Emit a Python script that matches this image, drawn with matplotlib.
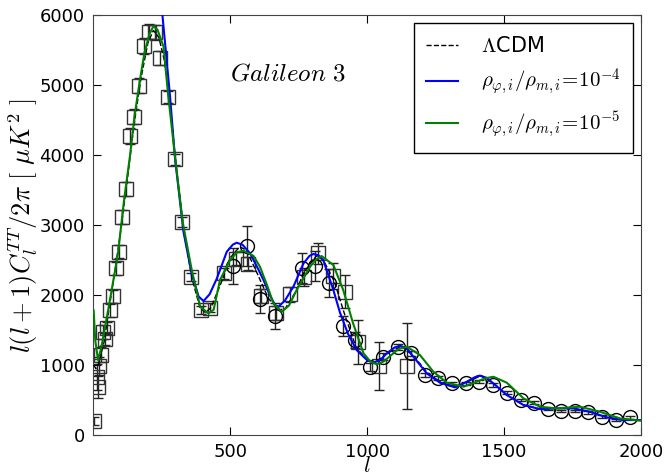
import numpy as np
import matplotlib
matplotlib.use('Agg')
import matplotlib.pyplot as plt

plt.rcParams['mathtext.fontset'] = 'cm'
plt.rcParams['font.family'] = 'DejaVu Sans'

# --- theory curves ---
lcdm_l = [2, 10, 20, 40, 60, 80, 100, 125, 150, 175, 200, 220, 240, 260, 280, 300, 330, 360, 390, 410,
          430, 470, 500, 535, 560, 600, 640, 680, 700, 740, 770, 815, 840, 880, 920, 960, 1000, 1030,
          1075, 1125, 1170, 1220, 1270, 1325, 1365, 1415, 1460, 1510, 1570, 1630, 1690, 1750, 1810,
          1875, 1935, 2000]
lcdm_cl = [1000, 950, 1020, 1330, 1850, 2350, 2900, 3650, 4450, 5100, 5600, 5780, 5680, 5350, 4750, 3950,
           2950, 2250, 1820, 1750, 1820, 2200, 2530, 2690, 2640, 2300, 1950, 1790, 1800, 2050, 2330, 2560,
           2500, 2200, 1700, 1250, 1080, 1040, 1170, 1270, 1130, 890, 750, 690, 760, 845, 745, 575, 430,
           375, 380, 382, 335, 255, 215, 212]

blue_l = [245, 253, 265, 281, 299, 330, 360, 385, 403, 425, 451, 488, 510, 524, 545, 573, 600, 622, 645,
          664, 676, 700, 731, 768, 790, 804, 822, 840, 877, 901, 930, 962, 1000, 1023, 1050, 1072, 1100,
          1120, 1145, 1169, 1218, 1266, 1321, 1364, 1390, 1412, 1435, 1461, 1510, 1571, 1631, 1692, 1753,
          1814, 1875, 1935, 2000]
blue_cl = [6300, 6000, 5500, 4830, 3950, 2900, 2300, 1980, 1914, 2010, 2230, 2619, 2720, 2747, 2720, 2595,
           2390, 2214, 2000, 1857, 1833, 1920, 2119, 2452, 2560, 2586, 2570, 2500, 2071, 1750, 1450, 1214,
           1070, 1033, 1080, 1167, 1250, 1276, 1240, 1119, 881, 748, 681, 762, 820, 848, 820, 738, 571,
           429, 371, 381, 381, 333, 252, 214, 214]

green_l = [2, 8, 18, 30, 55, 91, 113, 135, 151, 170, 187, 205, 220, 235, 257, 274, 299, 327, 360, 391,
           421, 440, 463, 500, 525, 549, 585, 609, 634, 658, 689, 715, 743, 792, 812, 834, 877, 913, 949,
           987, 1010, 1035, 1060, 1084, 1115, 1145, 1193, 1242, 1291, 1352, 1400, 1430, 1461, 1510, 1571,
           1631, 1692, 1740, 1777, 1850, 1923, 2000]
green_cl = [1780, 1350, 1071, 1250, 1786, 2595, 3357, 4000, 4550, 5050, 5450, 5720, 5840, 5790, 5550,
            4857, 3976, 3043, 2357, 1833, 1738, 1790, 2214, 2500, 2610, 2633, 2560, 2405, 2150, 1881,
            1762, 1850, 2071, 2405, 2500, 2557, 2429, 2071, 1595, 1167, 1060, 1010, 1050, 1129, 1230,
            1262, 1143, 905, 748, 690, 762, 810, 833, 748, 524, 405, 381, 395, 405, 333, 238, 205]

# --- data points: squares ---
sq_l = [5, 15, 17, 22, 29, 35, 43, 51, 60, 73, 83, 94, 106, 119, 136, 151, 169, 187, 204, 226, 246, 272,
        299, 326, 358, 392, 428, 476, 522, 567, 612, 668, 719, 768, 822, 875, 921, 968, 1045, 1145]
sq_cl = [200, 830, 690, 990, 1150, 1470, 1370, 1530, 1780, 1980, 2380, 2620, 3120, 3520, 4270, 4550, 4990,
         5560, 5760, 5750, 5380, 4830, 3940, 3040, 2260, 1790, 1820, 2310, 2520, 2450, 1990, 1740, 2010,
         2260, 2600, 2270, 2050, 1330, 985, 990]
sq_err = [60, 180, 160, 130, 110, 100, 90, 90, 90, 90, 90, 90, 100, 100, 110, 110, 110, 110, 110, 110,
          100, 90, 80, 70, 60, 60, 60, 80, 90, 90, 100, 100, 110, 130, 150, 190, 240, 310, 345, 615]

# --- data points: circles ---
ci_l = [512, 563, 609, 663, 762, 810, 862, 911, 956, 1011, 1059, 1114, 1159, 1212, 1260, 1311, 1361,
        1410, 1459, 1510, 1560, 1610, 1659, 1709, 1759, 1808, 1858, 1909, 1960]
ci_cl = [2414, 2700, 1950, 1700, 2380, 2414, 2167, 1557, 1357, 976, 1119, 1262, 1167, 857, 819, 738, 738,
         762, 714, 605, 500, 462, 371, 343, 343, 324, 262, 214, 252]
ci_err = [260, 280, 200, 180, 215, 215, 200, 140, 120, 60, 50, 40, 40, 30, 30, 25, 25, 25, 25, 25, 20,
          20, 20, 20, 20, 20, 20, 20, 20]

fig = plt.figure(figsize=(6.65, 4.76), dpi=100)
ax = fig.add_axes([0.14, 0.086, 0.824, 0.8825])

ax.errorbar(sq_l, sq_cl, yerr=sq_err, fmt='s', ms=9.5, mfc='none', mec='#333333', mew=1.0,
            ecolor='#222222', elinewidth=1.0, capsize=3.5, zorder=2)
ax.errorbar(ci_l, ci_cl, yerr=ci_err, fmt='o', ms=10, mfc='none', mec='black', mew=1.0,
            ecolor='#222222', elinewidth=1.0, capsize=3.5, zorder=2)

ax.plot(lcdm_l, lcdm_cl, 'k--', lw=1.0, label=r'$\Lambda$CDM', zorder=3)
ax.plot(blue_l, blue_cl, color='#0000ff', lw=1.5, label=r'$\rho_{\varphi,i}/\rho_{m,i}\!=\!10^{-4}$', zorder=4)
ax.plot(green_l, green_cl, color='#008000', lw=1.5, label=r'$\rho_{\varphi,i}/\rho_{m,i}\!=\!10^{-5}$', zorder=5)

ax.set_xlim(0, 2000)
ax.set_ylim(0, 6000)
ax.set_xticks([500, 1000, 1500, 2000])
ax.set_yticks([0, 1000, 2000, 3000, 4000, 5000, 6000])
ax.tick_params(direction='in', top=True, right=True, labelsize=13, length=6, pad=6)
for s in ax.spines.values():
    s.set_color('#444444')

ax.set_xlabel(r'$l$', fontsize=16, labelpad=-4)
ax.set_ylabel(r'$l(l+1)C_l^{TT}/2\pi\ [\ \mu K^2\ ]$', fontsize=19, labelpad=0)
ax.text(0.25, 0.845, r'$Galileon\ 3$', transform=ax.transAxes, fontsize=18)

leg = ax.legend(loc='upper right', fontsize=15, handlelength=1.5, handletextpad=1.1, borderpad=0.6,
                labelspacing=0.55, fancybox=False, framealpha=1, borderaxespad=0.4)
leg.get_frame().set_edgecolor('black')

fig.savefig('out.png', dpi=100)
